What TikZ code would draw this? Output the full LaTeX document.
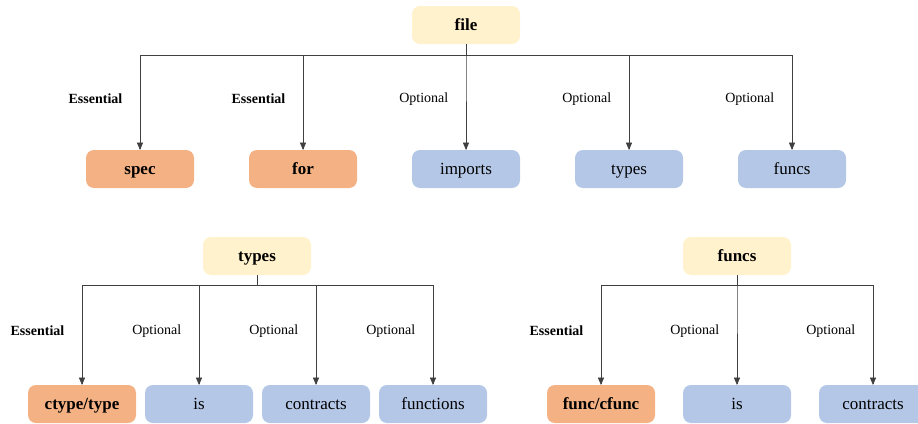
\documentclass[tikz,border=0pt]{standalone}
\usepackage{fontspec}
\setmainfont{Liberation Serif}
\usetikzlibrary{arrows,positioning}
\definecolor{rootYellow}{HTML}{FFF2CC}
\definecolor{essOrange}{HTML}{F4B183}
\definecolor{optBlue}{HTML}{B4C7E7}
\begin{document}
\begin{tikzpicture} %
		[
			x=1pt, y=-1pt,
			box/.style={
				rectangle,
				rounded corners=8,
				minimum width=108pt,
				minimum height=38pt,
				inner sep=0, outer sep=0,
				text height=14pt, text depth=3pt,
				font={\fontsize{17}{19}\selectfont},
			},
			parent/.style={box, fill=rootYellow, font={\fontsize{17}{19}\selectfont\bfseries}},
			essential/.style={box, fill=essOrange, font={\fontsize{17}{19}\selectfont\bfseries}},
			optional/.style={box, fill=optBlue},
			arch/.style={-triangle 45, line width=0.7pt, draw=black!75},
			lbl/.style={font={\fontsize{14}{16}\selectfont}, pos=0.73, left=14pt},
			essLbl/.style={lbl, font={\fontsize{14}{16}\selectfont\bfseries}},
		]
		\clip (0,0) rectangle (918,423);
		% top tree
		\node[parent] (file) at (466,25) {file};
		\node[essential] (spec) at (140,169) {spec};
		\node[essential, right =55pt of spec] (for) {for};
		\node[optional, right =55pt of for] (imports) {imports};
		\node[optional, right =55pt of imports] (types) {types};
		\node[optional, right =55pt of types] (funcs) {funcs};
		\draw[arch] (file.south) -- ++(0,11) -| node[essLbl]{Essential} (spec.north);
		\draw[arch] (file.south) -- ++(0,11) -| node[essLbl]{Essential} (for.north);
		\draw[arch] (file.south) -- ++(0,11) -| node[lbl]{Optional} (imports.north);
		\draw[arch] (file.south) -- ++(0,11) -| node[lbl]{Optional} (types.north);
		\draw[arch] (file.south) -- ++(0,11) -| node[lbl]{Optional} (funcs.north);
		% types tree
		\node[parent] (typesRoot) at (257,256) {types};
		\node[essential] (ctype) at (82,404) {ctype/type};
		\node[optional, right =9pt of ctype] (typeIs) {is};
		\node[optional, right =9pt of typeIs] (typeContracts) {contracts};
		\node[optional, right =9pt of typeContracts] (typeFunctions) {functions};
		\draw[arch] (typesRoot.south) -- ++(0,10) -| node[essLbl]{Essential} (ctype.north);
		\draw[arch] (typesRoot.south) -- ++(0,10) -| node[lbl]{Optional} (typeIs.north);
		\draw[arch] (typesRoot.south) -- ++(0,10) -| node[lbl]{Optional} (typeContracts.north);
		\draw[arch] (typesRoot.south) -- ++(0,10) -| node[lbl]{Optional} (typeFunctions.north);
		% funcs tree
		\node[parent] (funcsRoot) at (737,256) {funcs};
		\node[essential] (func) at (601,404) {func/cfunc};
		\node[optional, right =28pt of func] (funcIs) {is};
		\node[optional, right =28pt of funcIs] (funcContracts) {contracts};
		\draw[arch] (funcsRoot.south) -- ++(0,10) -| node[essLbl]{Essential} (func.north);
		\draw[arch] (funcsRoot.south) -- ++(0,10) -| node[lbl]{Optional} (funcIs.north);
		\draw[arch] (funcsRoot.south) -- ++(0,10) -| node[lbl]{Optional} (funcContracts.north);
	\end{tikzpicture}
\end{document}
